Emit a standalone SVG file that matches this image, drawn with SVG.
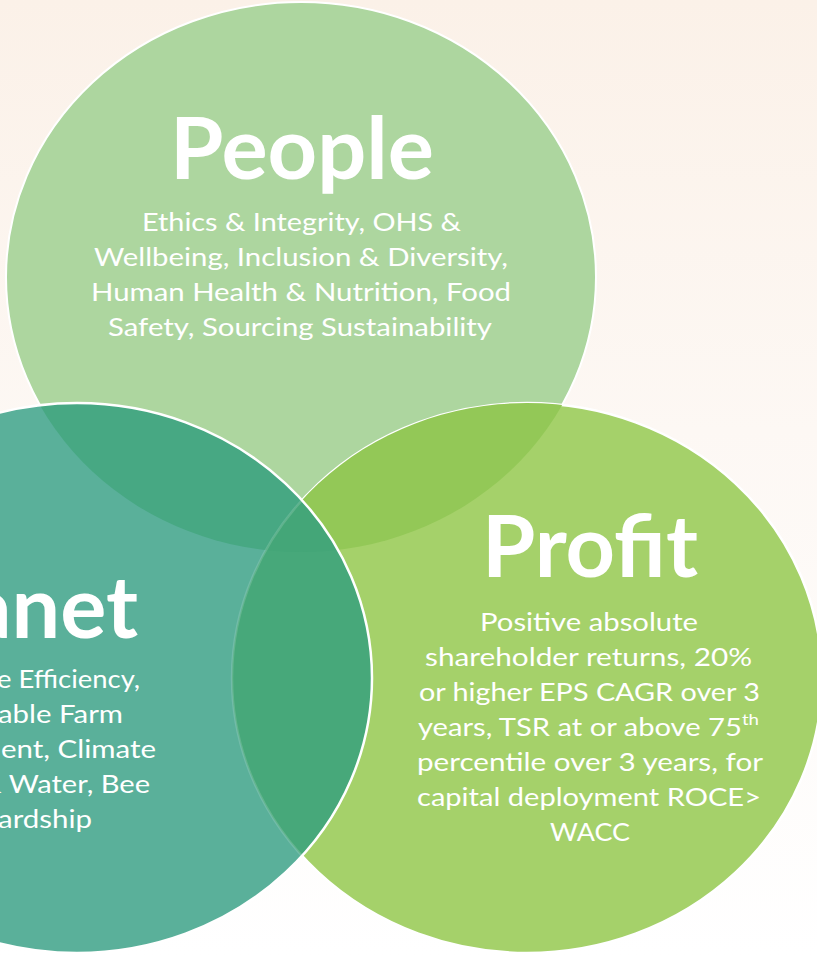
<svg xmlns="http://www.w3.org/2000/svg" width="817" height="956" viewBox="0 0 817 956">
  <defs>
    <linearGradient id="bg" x1="0" y1="0" x2="0" y2="1">
      <stop offset="0" stop-color="#FBF1E8"/>
      <stop offset="0.45" stop-color="#FDF8F4"/>
      <stop offset="1" stop-color="#FFFFFF"/>
    </linearGradient>
    <clipPath id="clipPeople"><ellipse cx="301" cy="277" rx="295" ry="275"/></clipPath>
    <clipPath id="clipProfit"><ellipse cx="527" cy="678" rx="295" ry="275"/></clipPath>
    <clipPath id="clipPlanet"><ellipse cx="77" cy="678" rx="295" ry="275"/></clipPath>
  </defs>
  <style>
    .title { font-family: Lato, "Open Sans", "Liberation Sans", sans-serif; font-weight: 700; font-size: 86px; fill: #FFFFFF; }
    .body { font-family: Lato, "Open Sans", "Liberation Sans", sans-serif; font-weight: 400; font-size: 25px; fill: #FFFFFF; }
    .edge { fill: none; stroke: #FFFFFF; stroke-width: 2.5; }
  </style>
  <rect x="0" y="0" width="817" height="956" fill="url(#bg)"/>

  <g id="people">
    <ellipse cx="301" cy="277" rx="295" ry="275" fill="#ADD69F" stroke="#FFFFFF" stroke-width="2"/>
  </g>

  <g id="profit">
    <ellipse cx="527" cy="678" rx="295" ry="275" fill="#A5D16A" stroke="#FFFFFF" stroke-width="2.5"/>
    <g clip-path="url(#clipPeople)">
      <ellipse cx="527" cy="678" rx="295" ry="275" fill="#93C857"/>
    </g>
  </g>

  <g id="planet">
    <ellipse cx="77" cy="678" rx="295" ry="275" fill="#5AB09A"/>
    <g clip-path="url(#clipPeople)">
      <ellipse cx="77" cy="678" rx="295" ry="275" fill="#47A883"/>
    </g>
    <g clip-path="url(#clipProfit)">
      <ellipse cx="77" cy="678" rx="295" ry="275" fill="#47A87A"/>
    </g>
    <g clip-path="url(#clipProfit)">
      <g clip-path="url(#clipPeople)">
        <ellipse cx="77" cy="678" rx="295" ry="275" fill="#44A678"/>
      </g>
    </g>
    <g clip-path="url(#clipPlanet)">
      <ellipse cx="527" cy="678" rx="295" ry="275" fill="none" stroke="#FFFFFF" stroke-opacity="0.15" stroke-width="2.5"/>
    </g>
    <ellipse cx="77" cy="678" rx="295" ry="275" class="edge"/>
  </g>

  <g id="people-text">
    <text class="title" x="170" y="179" textLength="264" lengthAdjust="spacingAndGlyphs">People</text>
    <text class="body" x="142" y="231" textLength="319" lengthAdjust="spacingAndGlyphs">Ethics &amp; Integrity, OHS &amp;</text>
    <text class="body" x="94" y="266" textLength="414" lengthAdjust="spacingAndGlyphs">Wellbeing, Inclusion &amp; Diversity,</text>
    <text class="body" x="91" y="301" textLength="420" lengthAdjust="spacingAndGlyphs">Human Health &amp; Nutrition, Food</text>
    <text class="body" x="108" y="336" textLength="384" lengthAdjust="spacingAndGlyphs">Safety, Sourcing Sustainability</text>
  </g>

  <g id="profit-text">
    <text class="title" x="482" y="577" textLength="216" lengthAdjust="spacingAndGlyphs">Profit</text>
    <text class="body" x="480" y="631" textLength="218" lengthAdjust="spacingAndGlyphs">Positive absolute</text>
    <text class="body" x="425" y="666" textLength="327" lengthAdjust="spacingAndGlyphs">shareholder returns, 20%</text>
    <text class="body" x="419" y="701" textLength="341" lengthAdjust="spacingAndGlyphs">or higher EPS CAGR over 3</text>
    <text class="body" x="418" y="736" textLength="341" lengthAdjust="spacingAndGlyphs">years, TSR at or above 75<tspan font-size="16" dy="-11">th</tspan></text>
    <text class="body" x="417" y="771" textLength="346" lengthAdjust="spacingAndGlyphs">percentile over 3 years, for</text>
    <text class="body" x="417" y="806" textLength="344" lengthAdjust="spacingAndGlyphs">capital deployment ROCE&gt;</text>
    <text class="body" x="550" y="841" textLength="80" lengthAdjust="spacingAndGlyphs">WACC</text>
  </g>

  <g id="planet-text">
    <text class="title" x="-107" y="638" textLength="245" lengthAdjust="spacingAndGlyphs">Planet</text>
    <text class="body" x="-3" y="688" textLength="143" lengthAdjust="spacingAndGlyphs">e Efficiency,</text>
    <text class="body" x="-2" y="723" textLength="125" lengthAdjust="spacingAndGlyphs">able Farm</text>
    <text class="body" x="1" y="758" textLength="155" lengthAdjust="spacingAndGlyphs">ent, Climate</text>
    <text class="body" x="-19" y="793" textLength="169" lengthAdjust="spacingAndGlyphs">&amp; Water, Bee</text>
    <text class="body" x="-2" y="828" textLength="94" lengthAdjust="spacingAndGlyphs">ardship</text>
  </g>
</svg>
